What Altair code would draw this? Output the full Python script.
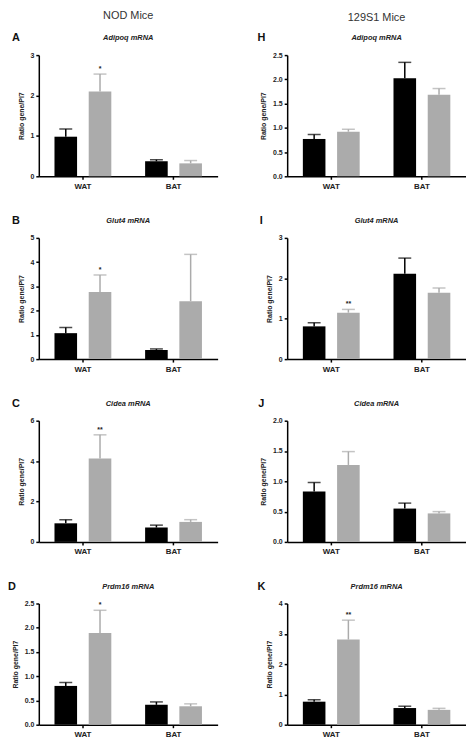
import altair as alt
import pandas as pd

FONT = "Liberation Sans"
BLACK = "#000000"
GRAY = "#ababab"

tissues = ["WAT", "BAT"]
groups = ["Group 1", "Group 2"]
y_title = "Ratio gene/Pl7"
headers = ["NOD Mice", "129S1 Mice"]

# order of each list: WAT-black, WAT-gray, BAT-black, BAT-gray
# NOD mice
A_mean = [0.98, 2.10, 0.37, 0.32]
A_upper = [1.17, 2.53, 0.41, 0.39]
A_star = ["", "*", "", ""]

B_mean = [1.07, 2.77, 0.38, 2.39]
B_upper = [1.30, 3.47, 0.42, 4.32]
B_star = ["", "*", "", ""]

C_mean = [0.92, 4.13, 0.71, 0.99]
C_upper = [1.10, 5.30, 0.83, 1.10]
C_star = ["", "**", "", ""]

D_mean = [0.80, 1.89, 0.41, 0.38]
D_upper = [0.87, 2.36, 0.47, 0.43]
D_star = ["", "*", "", ""]

# 129S1 mice
H_mean = [0.77, 0.92, 2.02, 1.68]
H_upper = [0.86, 0.97, 2.35, 1.81]
H_star = ["", "", "", ""]

I_mean = [0.81, 1.15, 2.11, 1.64]
I_upper = [0.90, 1.23, 2.50, 1.76]
I_star = ["", "**", "", ""]

J_mean = [0.83, 1.27, 0.55, 0.47]
J_upper = [0.98, 1.49, 0.64, 0.50]
J_star = ["", "", "", ""]

K_mean = [0.76, 2.81, 0.55, 0.49]
K_upper = [0.82, 3.45, 0.61, 0.54]
K_star = ["", "**", "", ""]

W = 180
H = 122


def panel(letter, gene, mean, upper, star, ymax, ticks, fmt, lx, header=None, hy=-39):
    df = pd.DataFrame({
        "tissue": [t for t in tissues for g in groups],
        "group": [g for t in tissues for g in groups],
        "mean": mean,
        "upper": upper,
        "star": star,
    })
    x = alt.X("tissue:N", sort=tissues,
              scale=alt.Scale(paddingInner=0.373, paddingOuter=0.173),
              axis=alt.Axis(title=None, labelAngle=0, labelFontSize=8, labelPadding=3))
    xo = alt.XOffset("group:N", sort=groups,
                     scale=alt.Scale(paddingInner=0.34, paddingOuter=0))
    col = alt.Color("group:N", sort=groups,
                    scale=alt.Scale(domain=groups, range=[BLACK, GRAY]), legend=None)
    ysc = alt.Scale(domain=[0, ymax], nice=False, zero=True)
    yax = alt.Axis(values=ticks, format=fmt, title=y_title, titlePadding=6)

    def Y(f):
        return alt.Y(f, scale=ysc, axis=yax)

    base = alt.Chart(df)
    bars = base.mark_bar().encode(x=x, xOffset=xo, y=Y("mean:Q"), color=col)
    err = base.mark_rule(strokeWidth=1.5).encode(
        x=x, xOffset=xo, y=Y("mean:Q"), y2="upper:Q", color=col)
    caps = base.mark_tick(thickness=1.5, size=13, orient="horizontal").encode(
        x=x, xOffset=xo, y=Y("upper:Q"), color=col)
    stars = base.mark_text(baseline="bottom", dy=-2, fontSize=7, color="#222",
                           font=FONT, fontWeight="bold").encode(
        x=x, xOffset=xo, y=Y("upper:Q"), text="star:N")

    ann = pd.DataFrame({"letter": [letter], "gene": [gene + " mRNA"],
                        "header": [header if header else ""]})
    a = alt.Chart(ann)
    letter_t = a.mark_text(fontSize=11, fontWeight="bold", font=FONT, color="#111",
                           align="center", baseline="middle").encode(
        x=alt.value(lx), y=alt.value(-17), text="letter:N")
    gene_t = a.mark_text(fontSize=7.5, fontWeight="bold", fontStyle="italic", font=FONT,
                         color="#222", align="center", baseline="middle").encode(
        x=alt.value(W / 2), y=alt.value(-17), text="gene:N")
    layers = [bars, err, caps, stars, letter_t, gene_t]
    if header:
        head_t = a.mark_text(fontSize=11, font=FONT, color="#333",
                             align="center", baseline="middle").encode(
            x=alt.value(W / 2), y=alt.value(hy), text="header:N")
        layers.append(head_t)
    return alt.layer(*layers).properties(width=W, height=H)


pA = panel("A", "Adipoq", A_mean, A_upper, A_star, 3, [0, 1, 2, 3], "d", -23, headers[0], -39)
pB = panel("B", "Glut4", B_mean, B_upper, B_star, 5, [0, 1, 2, 3, 4, 5], "d", -23)
pC = panel("C", "Cidea", C_mean, C_upper, C_star, 6, [0, 2, 4, 6], "d", -23)
pD = panel("D", "Prdm16", D_mean, D_upper, D_star, 2.5, [0, 0.5, 1, 1.5, 2, 2.5], ".1f", -27)
pH = panel("H", "Adipoq", H_mean, H_upper, H_star, 2.5, [0, 0.5, 1, 1.5, 2, 2.5], ".1f", -26, headers[1], -37)
pI = panel("I", "Glut4", I_mean, I_upper, I_star, 3, [0, 1, 2, 3], "d", -26)
pJ = panel("J", "Cidea", J_mean, J_upper, J_star, 2, [0, 0.5, 1, 1.5, 2], ".1f", -26)
pK = panel("K", "Prdm16", K_mean, K_upper, K_star, 4, [0, 1, 2, 3, 4], "d", -26)

chart = alt.concat(pA, pH, pB, pI, pC, pJ, pD, pK, columns=2,
                   spacing={"row": 62, "column": 70}, bounds="flush").properties(
    padding={"left": 0, "top": 0, "right": 0, "bottom": 0}
).configure_view(stroke=None).configure_axis(
    domainColor="black", domainWidth=1.5, tickColor="black", tickWidth=1.5, tickSize=3,
    labelFont=FONT, labelFontWeight="bold", labelFontSize=7, labelColor="#222",
    labelPadding=2, titleFont=FONT, titleFontSize=7, titleFontWeight="bold",
    titleColor="#222", grid=False,
)

chart.save("out.html", embed_options={"renderer": "svg", "actions": False})
